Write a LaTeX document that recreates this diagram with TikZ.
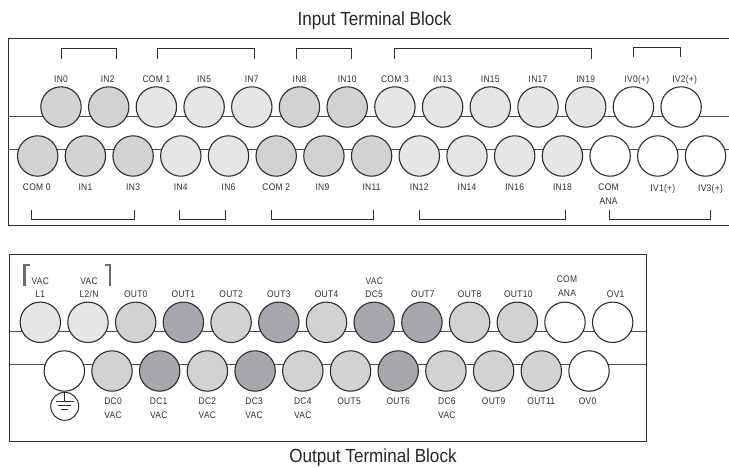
\documentclass[tikz,border=0pt]{standalone}
\usepackage{fontspec}
\usepackage{tikz}
\usetikzlibrary{positioning}
\newfontfamily\labelfont[FakeStretch=0.88,LetterSpace=3]{Liberation Sans}
\newfontfamily\titlefont[FakeStretch=0.9]{Liberation Sans}
\definecolor{lightgrey}{HTML}{E5E6E7}
\definecolor{midgrey}{HTML}{D0D2D3}
\definecolor{darkgrey}{HTML}{A6A8AB}
\definecolor{inkgrey}{HTML}{2E2E30}

\begin{document}
\begin{tikzpicture}[
x=1pt, y=-1pt, node distance=47.7pt,
term/.style={circle, draw=inkgrey, line width=1.1pt, inner sep=0pt, minimum size=40.4pt},
lightterm/.style={term, fill=lightgrey},
midterm/.style={term, fill=midgrey},
darkterm/.style={term, fill=darkgrey},
openterm/.style={term, fill=white},
lbl/.style={inner sep=0pt, text height=6.8pt, text depth=0pt, text=inkgrey, font=\labelfont\fontsize{9.6}{11}\selectfont},
title/.style={inner sep=0pt, text=black!85, font=\titlefont\fontsize{19}{22}\selectfont},
frame/.style={draw=inkgrey, line width=1pt},
rail/.style={draw=inkgrey!85, line width=1.1pt},
brace/.style={draw=inkgrey, line width=0.9pt},
hook/.style={draw=inkgrey!70, line width=2.2pt}
]
\useasboundingbox (0,0) rectangle (729,468);

%Frames
\draw[frame] (729,39) -- (8,39) -- (8,226) -- (729,226);
\draw[frame] (9.7,254.3) rectangle (646,441);

%Rails
\coordinate (inrailAl) at (8,116.7);
\coordinate (inrailAr) at (729,116.7);
\coordinate (inrailBl) at (8,149.3);
\coordinate (inrailBr) at (729,149.3);
\coordinate (outrailAl) at (9.7,331.3);
\coordinate (outrailAr) at (646,331.3);
\coordinate (outrailBl) at (9.7,364.3);
\coordinate (outrailBr) at (646,364.3);
\draw[rail] (inrailAl) -- (inrailAr);
\draw[rail] (inrailBl) -- (inrailBr);
\draw[rail] (outrailAl) -- (outrailAr);
\draw[rail] (outrailBl) -- (outrailBr);

%Titles
\node[title] (intitle) at (374.5,21) {Input Terminal Block};
\node[title] (outtitle) at (373,458) {Output Terminal Block};

%Input block, upper row
\node[midterm]   (in0)    at (61,107)              {};
\node[midterm]   (in2)    [right of =in0]          {};
\node[lightterm] (com1)   [right of =in2]          {};
\node[lightterm] (in5)    [right of =com1]         {};
\node[lightterm] (in7)    [right of =in5]          {};
\node[midterm]   (in8)    [right of =in7]          {};
\node[midterm]   (in10)   [right of =in8]          {};
\node[lightterm] (com3)   [right of =in10]         {};
\node[lightterm] (in13)   [right of =com3]         {};
\node[lightterm] (in15)   [right of =in13]         {};
\node[lightterm] (in17)   [right of =in15]         {};
\node[lightterm] (in19)   [right of =in17]         {};
\node[openterm]  (iv0)    [right of =in19]         {};
\node[openterm]  (iv2)    [right of =iv0]          {};

%Input block, lower row
\node[midterm]   (com0)   at (37.7,156)            {};
\node[midterm]   (in1)    [right of =com0]         {};
\node[midterm]   (in3)    [right of =in1]          {};
\node[lightterm] (in4)    [right of =in3]          {};
\node[lightterm] (in6)    [right of =in4]          {};
\node[midterm]   (com2)   [right of =in6]          {};
\node[midterm]   (in9)    [right of =com2]         {};
\node[midterm]   (in11)   [right of =in9]          {};
\node[lightterm] (in12)   [right of =in11]         {};
\node[lightterm] (in14)   [right of =in12]         {};
\node[lightterm] (in16)   [right of =in14]         {};
\node[lightterm] (in18)   [right of =in16]         {};
\node[openterm]  (comana) [right of =in18]         {};
\node[openterm]  (iv1)    [right of =comana]       {};
\node[openterm]  (iv3)    [right of =iv1]          {};

%Output block, upper row
\node[lightterm] (l1)     at (40.3,322.3)          {};
\node[lightterm] (l2)     [right of =l1]           {};
\node[midterm]   (out0)   [right of =l2]           {};
\node[darkterm]  (out1)   [right of =out0]         {};
\node[midterm]   (out2)   [right of =out1]         {};
\node[darkterm]  (out3)   [right of =out2]         {};
\node[midterm]   (out4)   [right of =out3]         {};
\node[darkterm]  (dc5)    [right of =out4]         {};
\node[darkterm]  (out7)   [right of =dc5]          {};
\node[midterm]   (out8)   [right of =out7]         {};
\node[midterm]   (out10)  [right of =out8]         {};
\node[openterm]  (ana)    [right of =out10]        {};
\node[openterm]  (ov1)    [right of =ana]          {};

%Output block, lower row
\node[openterm]  (gnd)    at (64.3,371)            {};
\node[midterm]   (dc0)    [right of =gnd]          {};
\node[darkterm]  (dc1)    [right of =dc0]          {};
\node[midterm]   (dc2)    [right of =dc1]          {};
\node[darkterm]  (dc3)    [right of =dc2]          {};
\node[midterm]   (dc4)    [right of =dc3]          {};
\node[midterm]   (out5)   [right of =dc4]          {};
\node[darkterm]  (out6)   [right of =out5]         {};
\node[midterm]   (dc6)    [right of =out6]         {};
\node[midterm]   (out9)   [right of =dc6]          {};
\node[midterm]   (out11)  [right of =out9]         {};
\node[openterm]  (ov0)    [right of =out11]        {};

%Input labels, upper row
\node[lbl] (lin0)  [above=4pt of in0]              {IN0};
\node[lbl] (lin2)  [above=4pt of in2, xshift=-1pt] {IN2};
\node[lbl] (lcom1) [above=4pt of com1]             {COM 1};
\node[lbl] (lin5)  [above=4pt of in5]              {IN5};
\node[lbl] (lin7)  [above=4pt of in7]              {IN7};
\node[lbl] (lin8)  [above=4pt of in8]              {IN8};
\node[lbl] (lin10) [above=4pt of in10]             {IN10};
\node[lbl] (lcom3) [above=4pt of com3]             {COM 3};
\node[lbl] (lin13) [above=4pt of in13]             {IN13};
\node[lbl] (lin15) [above=4pt of in15]             {IN15};
\node[lbl] (lin17) [above=4pt of in17]             {IN17};
\node[lbl] (lin19) [above=4pt of in19]             {IN19};
\node[lbl] (liv0)  [above=4pt of iv0, xshift=3.5pt] {IV0(+)};
\node[lbl] (liv2)  [above=4pt of iv2, xshift=3.5pt] {IV2(+)};

%Input labels, lower row
\node[lbl] (lcom0) [below=6.5pt of com0, xshift=-1pt] {COM 0};
\node[lbl] (lin1)  [below=6.5pt of in1]            {IN1};
\node[lbl] (lin3)  [below=6.5pt of in3]            {IN3};
\node[lbl] (lin4)  [below=6.5pt of in4]            {IN4};
\node[lbl] (lin6)  [below=6.5pt of in6]            {IN6};
\node[lbl] (lcom2) [below=6.5pt of com2]           {COM 2};
\node[lbl] (lin9)  [below=6.5pt of in9, xshift=-1.5pt] {IN9};
\node[lbl] (lin11) [below=6.5pt of in11]           {IN11};
\node[lbl] (lin12) [below=6.5pt of in12]           {IN12};
\node[lbl] (lin14) [below=6.5pt of in14]           {IN14};
\node[lbl] (lin16) [below=6.5pt of in16]           {IN16};
\node[lbl] (lin18) [below=6.5pt of in18]           {IN18};
\node[lbl] (lcomana) [below=6.5pt of comana, xshift=-1.5pt] {COM};
\node[lbl] (lanaA) [below=6.6pt of lcomana]        {ANA};
\node[lbl] (liv1)  [below=7.5pt of iv1, xshift=5pt] {IV1(+)};
\node[lbl] (liv3)  [below=7.5pt of iv3, xshift=5pt] {IV3(+)};

%Output labels, upper row
\node[lbl] (ll1)   [above=4pt of l1]               {L1};
\node[lbl] (lvac1) [above=5.6pt of ll1]            {VAC};
\node[lbl] (ll2)   [above=4pt of l2, xshift=1pt]   {L2/N};
\node[lbl] (lvac2) [above=5.6pt of ll2]            {VAC};
\node[lbl] (lout0) [above=4pt of out0]             {OUT0};
\node[lbl] (lout1) [above=4pt of out1]             {OUT1};
\node[lbl] (lout2) [above=4pt of out2]             {OUT2};
\node[lbl] (lout3) [above=4pt of out3]             {OUT3};
\node[lbl] (lout4) [above=4pt of out4]             {OUT4};
\node[lbl] (ldc5)  [above=4pt of dc5]              {DC5};
\node[lbl] (lvac5) [above=5.6pt of ldc5]           {VAC};
\node[lbl] (lout7) [above=4pt of out7, xshift=1pt] {OUT7};
\node[lbl] (lout8) [above=4pt of out8]             {OUT8};
\node[lbl] (lout10) [above=4pt of out10, xshift=1pt] {OUT10};
\node[lbl] (lana)  [above=5.3pt of ana, xshift=2pt] {ANA};
\node[lbl] (lcomb) [above=6pt of lana]             {COM};
\node[lbl] (lov1)  [above=4pt of ov1, xshift=3pt]  {OV1};

%Output labels, lower row
\node[lbl] (ldc0)  [below=5.8pt of dc0, xshift=1pt] {DC0};
\node[lbl] (lvac0) [below=7.2pt of ldc0]           {VAC};
\node[lbl] (ldc1)  [below=5.8pt of dc1, xshift=-1pt] {DC1};
\node[lbl] (lvacb) [below=7.2pt of ldc1]           {VAC};
\node[lbl] (ldc2)  [below=5.8pt of dc2]            {DC2};
\node[lbl] (lvacc) [below=7.2pt of ldc2]           {VAC};
\node[lbl] (ldc3)  [below=5.8pt of dc3, xshift=-1pt] {DC3};
\node[lbl] (lvacd) [below=7.2pt of ldc3]           {VAC};
\node[lbl] (ldc4)  [below=5.8pt of dc4]            {DC4};
\node[lbl] (lvace) [below=7.2pt of ldc4]           {VAC};
\node[lbl] (lout5) [below=5.8pt of out5, xshift=-1.5pt] {OUT5};
\node[lbl] (lout6) [below=5.8pt of out6]           {OUT6};
\node[lbl] (ldc6)  [below=5.8pt of dc6, xshift=1pt] {DC6};
\node[lbl] (lvacf) [below=7.2pt of ldc6]           {VAC};
\node[lbl] (lout9) [below=5.8pt of out9]           {OUT9};
\node[lbl] (lout11) [below=5.8pt of out11]         {OUT11};
\node[lbl] (lov0)  [below=5.8pt of ov0, xshift=-1.5pt] {OV0};

%Ground symbol
\node[circle, draw=inkgrey, line width=1pt, inner sep=0pt, minimum size=28pt] (earth) at (64.7,406.3) {};
\draw[brace] (earth.north) -- ++(0,10) coordinate (earthbar);
\draw[brace] ([xshift=-9pt]earthbar) -- ([xshift=9pt]earthbar);
\draw[brace] ([xshift=-6.5pt,yshift=-3.8pt]earthbar) -- ([xshift=6.5pt,yshift=-3.8pt]earthbar);
\draw[brace] ([xshift=-3.3pt,yshift=-7.6pt]earthbar) -- ([xshift=3.3pt,yshift=-7.6pt]earthbar);

%Brackets, input block
\coordinate (topAa) at (61,59);    \coordinate (topAb) at (116,59);
\coordinate (topBa) at (157,59);   \coordinate (topBb) at (254,59);
\coordinate (topCa) at (296,59);   \coordinate (topCb) at (351,59);
\coordinate (topDa) at (394,59);   \coordinate (topDb) at (591.7,59);
\coordinate (topEa) at (633.7,56.7); \coordinate (topEb) at (680.7,56.7);
\coordinate (botAa) at (31.7,210);  \coordinate (botAb) at (134.3,210);
\coordinate (botBa) at (179,210);   \coordinate (botBb) at (225.7,210);
\coordinate (botCa) at (271,210);   \coordinate (botCb) at (373.7,210);
\coordinate (botDa) at (419.3,210); \coordinate (botDb) at (565.7,210);
\coordinate (botEa) at (609.3,210); \coordinate (botEb) at (710.3,210);
\draw[brace] (topAa) -- ++(0,-10.3) -| (topAb);
\draw[brace] (topBa) -- ++(0,-10.3) -| (topBb);
\draw[brace] (topCa) -- ++(0,-10.3) -| (topCb);
\draw[brace] (topDa) -- ++(0,-10.3) -| (topDb);
\draw[brace] (topEa) -- ++(0,-9.4) -| (topEb);
\draw[brace] (botAa) -- ++(0,9.3) -| (botAb);
\draw[brace] (botBa) -- ++(0,9.3) -| (botBb);
\draw[brace] (botCa) -- ++(0,9.3) -| (botCb);
\draw[brace] (botDa) -- ++(0,9.3) -| (botDb);
\draw[brace] (botEa) -- ++(0,9.3) -| (botEb);

%Brackets, output block
\coordinate (hookA) at (24.5,285.7);
\coordinate (hookB) at (110,285.7);
\draw[hook] (hookA) -- ++(0,-21) -- ++(5,0);
\draw[hook] (hookB) -- ++(0,-21) -- ++(-5,0);
\end{tikzpicture}
\end{document}
